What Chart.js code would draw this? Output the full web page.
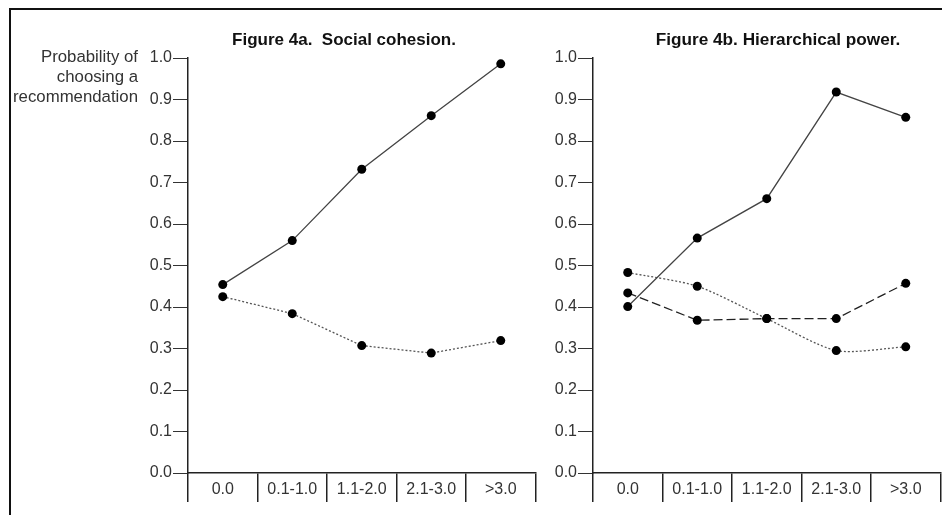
<!DOCTYPE html>
<html>
<head>
<meta charset="utf-8">
<script src="https://cdn.jsdelivr.net/npm/chart.js@4.4.1/dist/chart.umd.min.js"></script>
<style>
    body { margin: 0; background: #fff; }
    #wrap { position: relative; width: 942px; height: 515px; overflow: hidden; background: #fff; }
    #frame { position: absolute; left: 9px; top: 8px; right: -4px; bottom: -4px; border-top: 2px solid #111; border-left: 2px solid #111; }
    #chartA { position: absolute; left: 0; top: 0; }
    #chartB { position: absolute; left: 540px; top: 0; }
</style>
</head>
<body>
<div id="wrap">
    <div id="frame"></div>
    <canvas id="chartA" width="540" height="515"></canvas>
    <canvas id="chartB" width="405" height="515"></canvas>
</div>
<script>
// categories on the x axis (same for both panels)
const categories = ['0.0', '0.1-1.0', '1.1-2.0', '2.1-3.0', '>3.0'];

// Figure 4a. Social cohesion.
const cohesionSolid = [0.454, 0.560, 0.732, 0.861, 0.986];
const cohesionDotted = [0.425, 0.384, 0.307, 0.289, 0.319];

// Figure 4b. Hierarchical power.
const powerSolid = [0.401, 0.566, 0.661, 0.918, 0.857];
const powerDotted = [0.483, 0.450, 0.372, 0.295, 0.304];
const powerDashed = [0.434, 0.368, 0.372, 0.372, 0.457];

const yMin = 0.0;
const yMax = 1.0;
const yStep = 0.1;

const fontFamily = '"Liberation Sans", Arial, sans-serif';

// draws the titles and the y-axis caption as plain canvas text
const figText = {
    id: 'figText',
    afterDraw(chart, args, opts) {
        const ctx = chart.ctx;
        ctx.save();
        (opts.items || []).forEach(it => {
            ctx.font = it.font;
            ctx.fillStyle = it.color;
            ctx.textAlign = it.align;
            ctx.textBaseline = 'middle';
            ctx.fillText(it.text, it.x, it.y);
        });
        ctx.restore();
    }
};

function lineSet(data, style) {
    let ds = {
        data: data,
        borderColor: '#444',
        borderWidth: 1.3,
        pointRadius: 4.5,
        pointBackgroundColor: '#000',
        pointBorderColor: '#000',
        pointBorderWidth: 0,
        tension: 0
    };
    if (style === 'dotted') {
        ds.borderDash = [2, 2];
        ds.borderColor = '#555';
    }
    if (style === 'dashed') {
        ds.borderDash = [9, 4];
        ds.borderColor = '#222';
    }
    return ds;
}

function makeOptions(yWidth, padRight, texts) {
    return {
        responsive: false,
        animation: false,
        layout: { padding: { top: 58, right: padRight, left: 0, bottom: 0 } },
        plugins: {
            legend: { display: false },
            tooltip: { enabled: false },
            figText: { items: texts }
        },
        scales: {
            x: {
                type: 'category',
                offset: true,
                grid: { offset: true, drawOnChartArea: false, tickLength: 29, color: '#222', lineWidth: 1.5 },
                border: { display: true, color: '#222', width: 1.5 },
                ticks: {
                    padding: -22,
                    maxRotation: 0,
                    autoSkip: false,
                    color: '#333',
                    font: { family: fontFamily, size: 16 }
                },
                afterFit: function (scale) { scale.height = 42; }
            },
            y: {
                min: yMin,
                max: yMax,
                grid: { drawOnChartArea: false, tickLength: 15, color: '#333', lineWidth: 1 },
                border: { display: true, color: '#222', width: 1.5 },
                ticks: {
                    stepSize: yStep,
                    padding: 1,
                    color: '#333',
                    font: { family: fontFamily, size: 16 },
                    callback: function (value) { return value.toFixed(1); }
                },
                afterFit: function (scale) { scale.width = yWidth; }
            }
        }
    };
}

const titleFont = 'bold 17px ' + fontFamily;
const labelFont = '16.8px ' + fontFamily;

new Chart(document.getElementById('chartA'), {
    type: 'line',
    data: {
        labels: categories,
        datasets: [lineSet(cohesionSolid, 'solid'), lineSet(cohesionDotted, 'dotted')]
    },
    options: makeOptions(188, 4, [
        { text: 'Figure 4a.  Social cohesion.', x: 344, y: 40, font: titleFont, color: '#111', align: 'center' },
        { text: 'Probability of', x: 138, y: 57, font: labelFont, color: '#333', align: 'right' },
        { text: 'choosing a', x: 138, y: 77, font: labelFont, color: '#333', align: 'right' },
        { text: 'recommendation', x: 138, y: 97, font: labelFont, color: '#333', align: 'right' }
    ]),
    plugins: [figText]
});

let powerDottedSet = lineSet(powerDotted, 'dotted');
powerDottedSet.tension = 0.25;

new Chart(document.getElementById('chartB'), {
    type: 'line',
    data: {
        labels: categories,
        datasets: [lineSet(powerSolid, 'solid'), powerDottedSet, lineSet(powerDashed, 'dashed')]
    },
    options: makeOptions(53, 1, [
        { text: 'Figure 4b. Hierarchical power.', x: 238, y: 40, font: 'bold 17.2px ' + fontFamily, color: '#111', align: 'center' }
    ]),
    plugins: [figText]
});
</script>
</body>
</html>
